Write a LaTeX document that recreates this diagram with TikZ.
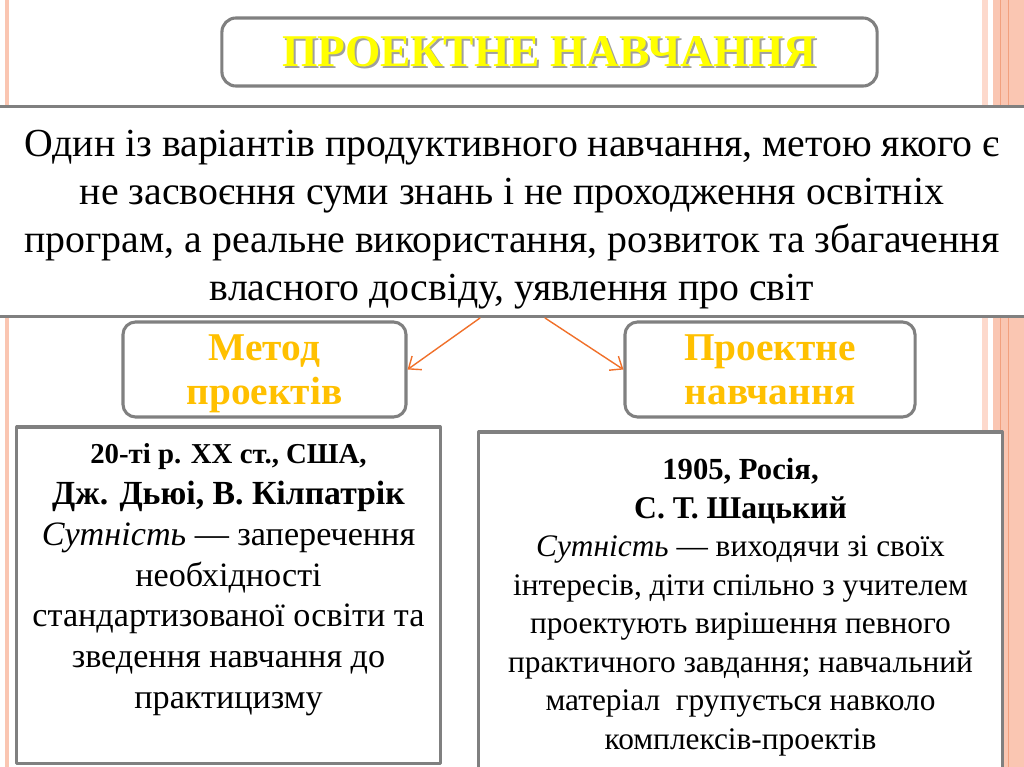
\documentclass[tikz,border=0pt]{standalone}
\usepackage{fontspec}
\setmainfont{Liberation Serif}
\usetikzlibrary{arrows.meta,positioning}
\definecolor{slidegray}{HTML}{808080}
\definecolor{titleyellow}{HTML}{FFFF00}
\definecolor{labelgold}{HTML}{FFC000}
\definecolor{arroworange}{HTML}{F0702A}
\definecolor{stripelight}{HTML}{FDD9CC}
\definecolor{stripe}{HTML}{FAC6B2}
\definecolor{stripeline}{HTML}{F2A07E}
\tikzset{
  every picture/.append style={line cap=round,line join=round},
  slide frame/.style={draw=slidegray,line width=2.2pt,fill=white},
  slide band/.style={fill=white,minimum width=26.4cm,minimum height=5.225cm},
  slide label/.style={slide frame,rounded corners=9pt,minimum height=2.375cm,align=center,
    text depth=0pt,text=labelgold,font=\fontsize{28}{31.5}\selectfont\bfseries},
  slide info/.style={slide frame},
  slide text/.style={align=center,inner sep=0pt,anchor=north},
  slide arrow/.style={arroworange,line width=1pt,-{Straight Barb[length=2.6mm,width=4.2mm]}}
}

\begin{document}
\begin{tikzpicture}[x=0.025cm,y=-0.025cm]
\useasboundingbox (0,0) rectangle (1024,767);
% side stripes
\fill[stripe] (5,0) rectangle (9,767);
\fill[stripelight] (982,0) rectangle (988,767);
\fill[stripe] (993,0) rectangle (1024,767);
\draw[stripeline,line width=0.7pt] (1000,0) -- (1000,767);
\draw[stripeline,line width=0.5pt] (1008,0) -- (1008,767);

% title
\node[slide frame,rounded corners=10pt,minimum width=16.375cm,minimum height=1.7cm] (title) at (549.5,52) {};
\node[text=gray!75,font=\fontsize{32.3}{36}\selectfont\bfseries] at ([shift={(2,2)}]title.center) {ПРОЕКТНЕ НАВЧАННЯ};
\node[text=titleyellow,font=\fontsize{32.3}{36}\selectfont\bfseries] (titletext) at (title.center) {ПРОЕКТНЕ НАВЧАННЯ};

% definition band
\node[slide band] (defn) at (512,211.5) {};
\draw[slidegray,line width=2.2pt] (defn.north west) -- (defn.north east);
\draw[slidegray,line width=2.2pt] (defn.south west) -- (defn.south east);
\node[align=center,font=\fontsize{28.3}{34.1}\selectfont] (defntext) at (512,219.5)
  {Один із варіантів продуктивного навчання, метою якого є\\
   не засвоєння суми знань і не проходження освітніх\\
   програм, а реальне використання, розвиток та збагачення\\
   власного досвіду, уявлення про світ};

% two kinds
\node[slide label,minimum width=7.075cm] (method) at (264.5,369.5) {Метод\\проектів};
\node[slide label,minimum width=7.25cm] (projlearn) at (770,369.5) {Проектне\\навчання};
\coordinate (fromL) at (480,318);
\coordinate (fromR) at (545,318);
\draw[slide arrow] (fromL) -- (method.east);
\draw[slide arrow] (fromR) -- (projlearn.west);

% details
\node[slide info,minimum width=10.575cm,minimum height=8.4cm] (methodinfo) at (228.5,595) {};
\node[slide info,minimum width=13.075cm,minimum height=8.625cm] (projinfo) at (740.5,604.5) {};
\node[slide text,below=0.45cm of methodinfo.north,font=\fontsize{24.3}{29}\selectfont] (methodtext)
  {{\fontsize{20.5}{29}\selectfont\bfseries 20-ті р. ХХ ст., США,}\\
   {\fontsize{24}{29}\selectfont\bfseries Дж. Дьюі, В. Кілпатрік}\\
   \textit{Сутність} — заперечення\\
   необхідності\\
   стандартизованої освіти та\\
   зведення навчання до\\
   практицизму};
\node[slide text,below=0.695cm of projinfo.north,font=\fontsize{22.3}{27.4}\selectfont] (projtext)
  {{\fontsize{21.8}{27.4}\selectfont\bfseries 1905, Росія,}\\
   {\fontsize{22.5}{27.4}\selectfont\bfseries С. Т. Шацький}\\
   \textit{Сутність} — виходячи зі своїх\\
   інтересів, діти спільно з учителем\\
   проектують вирішення певного\\
   практичного завдання; навчальний\\
   матеріал\ \ групується навколо\\
   комплексів-проектів};
\end{tikzpicture}
\end{document}
